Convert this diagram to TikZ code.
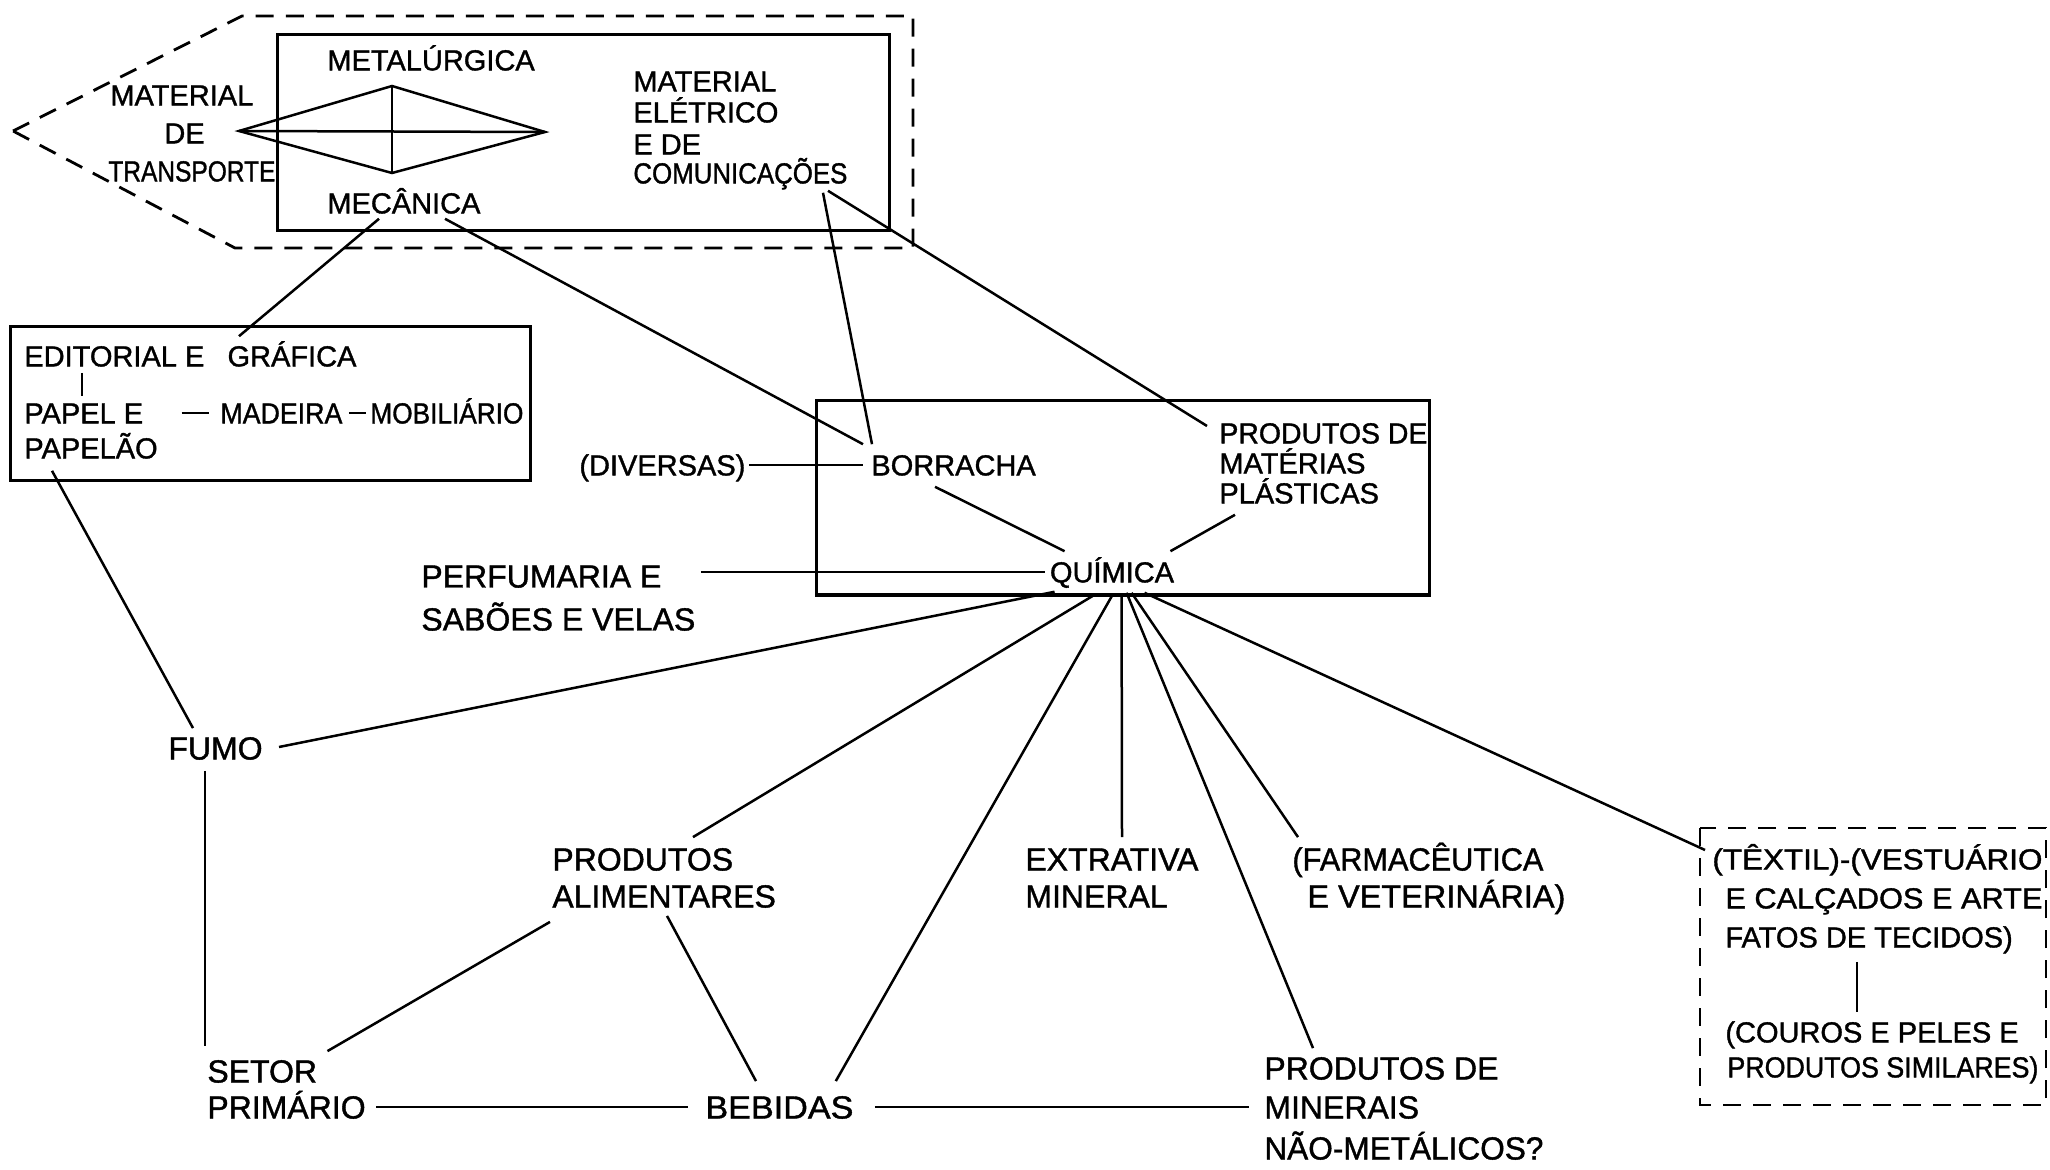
\documentclass[tikz,border=0pt]{standalone}
\usepackage{fontspec}
\setmainfont{Liberation Sans}[FakeBold=1.2]
\usepackage{graphicx}
\usetikzlibrary{calc}
\newcommand\fntS{\fontsize{14.5}{16}\selectfont}
\newcommand\fntL{\fontsize{16}{18}\selectfont}
\newcommand\hfit[2]{\resizebox{#1}{\height}{#2}}
\tikzset{
  smalltxt/.style={font=\fntS, text height=10.4pt, text depth=0pt, inner sep=0pt, anchor=west},
  largetxt/.style={font=\fntL, text height=11.5pt, text depth=0pt, inner sep=0pt, anchor=west},
  ln/.style={line width=1.25pt},
  solidbox/.style={line width=1.5pt},
  dashbox/.style={line width=1.4pt, dash pattern=on 9pt off 6pt}
}
\begin{document}
\begin{tikzpicture}[x=0.5pt,y=-0.5pt]
\useasboundingbox (0,0) rectangle (2050,1170);

% ---------- top group ----------
\draw[dashbox] (13,131) -- (242,16) -- (913,16) -- (913,248) -- (235,248) -- cycle;
\draw[solidbox] (277,35) rectangle (889,231);

\node[smalltxt] (metal) at (327,60) {METALÚRGICA};
\node[smalltxt] (mec) at (327,203) {MECÂNICA};
\node[smalltxt] (mtA) at (633,81) {MATERIAL};
\node[smalltxt] (mtB) at (633,112) {ELÉTRICO};
\node[smalltxt] (mtC) at (633,144) {E DE};
\node[smalltxt] (mtD) at (633,173) {\hfit{107pt}{COMUNICAÇÕES}};
\node[smalltxt] (trA) at (110,95) {MATERIAL};
\node[smalltxt] (trB) at (164,133) {DE};
\node[smalltxt] (trC) at (108,171) {\hfit{83.5pt}{TRANSPORTE}};

\coordinate (dl) at (239,131);
\coordinate (dt) at (392,86);
\coordinate (dr) at (545,132);
\coordinate (db) at (392,173);
\draw[ln] (dl) -- (dt) -- (dr) -- (db) -- cycle;
\draw[ln] (dl) -- (dr);
\draw[ln] (dt) -- (db);

% ---------- editorial box ----------
\draw[solidbox] (10,327) rectangle (530,481);
\node[smalltxt] (edA) at (24,356) {EDITORIAL E\hspace{0.8em}GRÁFICA};
\node[smalltxt] (papel) at (24,413) {PAPEL E};
\node[smalltxt] (made) at (220,413) {\hfit{61pt}{MADEIRA}};
\node[smalltxt] (mobi) at (370,413) {\hfit{76.5pt}{MOBILIÁRIO}};
\node[smalltxt] (papelao) at (24,448) {PAPELÃO};
\draw[ln] ($(edA.south west)+(58,6)$) -- ($(papel.north west)+(58,-6)$);
\draw[ln] ($(papel.east)+(38,0)$) -- ($(made.west)+(-11,0)$);
\draw[ln] ($(made.east)+(6,0)$) -- ($(mobi.west)+(-4,0)$);

% ---------- química box ----------
\draw[solidbox] (816,401) rectangle (1429,595);
\node[smalltxt] (div) at (579,465) {(DIVERSAS)};
\node[smalltxt] (borr) at (871,465) {BORRACHA};
\node[smalltxt, anchor=center] (qui) at (1112,572) {QUÍMICA};
\node[smalltxt] (plA) at (1219,433) {\hfit{104pt}{PRODUTOS DE}};
\node[smalltxt] (plB) at (1219,463) {MATÉRIAS};
\node[smalltxt] (plC) at (1219,493) {PLÁSTICAS};

% ---------- large labels ----------
\node[largetxt] (pfA) at (421,576) {PERFUMARIA E};
\node[largetxt] (pfB) at (421,619) {SABÕES E VELAS};
\node[largetxt] (fumo) at (168,748) {FUMO};
\node[largetxt] (alA) at (552,859) {PRODUTOS};
\node[largetxt] (alB) at (552,896) {ALIMENTARES};
\node[largetxt] (exA) at (1025,859) {EXTRATIVA};
\node[largetxt] (exB) at (1025,896) {MINERAL};
\node[largetxt] (faA) at (1292,859) {\hfit{125.5pt}{(FARMACÊUTICA}};
\node[largetxt] (faB) at (1307,896) {\hfit{129pt}{E VETERINÁRIA)}};
\node[largetxt] (seA) at (207,1071) {SETOR};
\node[largetxt] (seB) at (207,1107) {PRIMÁRIO};
\node[largetxt] (beb) at (705,1107) {\hfit{74pt}{BEBIDAS}};
\node[largetxt] (miA) at (1264,1068) {PRODUTOS DE};
\node[largetxt] (miB) at (1264,1107) {MINERAIS};
\node[largetxt] (miC) at (1264,1148) {\hfit{139.5pt}{NÃO-METÁLICOS?}};

% ---------- têxtil box ----------
\draw[dashbox] (1700,828) rectangle (2046,1105);
\node[smalltxt] (txA) at (1712,859) {\hfit{165pt}{(TÊXTIL)-(VESTUÁRIO}};
\node[smalltxt] (txB) at (1725,898) {\hfit{158.5pt}{E CALÇADOS E ARTE}};
\node[smalltxt] (txC) at (1725,937) {FATOS DE TECIDOS)};
\node[smalltxt] (crA) at (1725,1032) {(COUROS E PELES E};
\node[smalltxt] (crB) at (1727,1067) {\hfit{155.5pt}{PRODUTOS SIMILARES)}};
\draw[ln] ($(txC.south west)+(132,14)$) -- ($(crA.north west)+(132,-9)$);

% ---------- connectors ----------
\draw[ln] ($(mec.south west)+(52,5)$) -- ($(edA.north west)+(215,-9)$);
\draw[ln] ($(mec.south west)+(118,5)$) -- ($(borr.north west)+(-8,-10)$);
\draw[ln] ($(mtD.south west)+(190,9)$) -- ($(borr.north west)+(1,-10)$);
\draw[ln] ($(mtD.south west)+(195,7)$) -- ($(plA.west)+(-12,-7)$);
\draw[ln] ($(div.east)+(3,0)$) -- ($(borr.west)+(-8,0)$);
\draw[ln] ($(borr.south west)+(64,11)$) -- ($(qui.north west)+(15,-10)$);
\draw[ln] ($(plC.south west)+(16,11)$) -- ($(qui.north east)+(-4,-10)$);
\draw[ln] ($(pfA.east)+(39,-4)$) -- ($(qui.west)+(-5,0)$);
\draw[ln] ($(fumo.east)+(16,-1)$) -- ($(qui.south west)+(5,9)$);
\draw[ln] ($(alA.north west)+(141,-10)$) -- ($(qui.south west)+(45,12)$);
\draw[ln] ($(beb.north east)+(-18,-14)$) -- ($(qui.south west)+(63,12)$);
\draw[ln] ($(exA.north west)+(97,-10)$) -- ($(qui.south west)+(72,12)$);
\draw[ln] ($(miA.north west)+(49,-8)$) -- ($(qui.south west)+(77,10)$);
\draw[ln] ($(faA.north west)+(6,-10)$) -- ($(qui.south west)+(82,10)$);
\draw[ln] ($(txA.west)+(-7,-9)$) -- ($(qui.south west)+(95,10)$);
\draw[ln] ($(papelao.south west)+(28,12)$) -- ($(fumo.north west)+(25,-8)$);
\draw[ln] ($(fumo.south west)+(37,11)$) -- ($(seA.north west)+(-2,-13)$);
\draw[ln] ($(seA.north east)+(10,-8)$) -- ($(alB.south west)+(-2,14)$);
\draw[ln] ($(alB.south west)+(115,8)$) -- ($(beb.north west)+(51,-14)$);
\draw[ln] ($(seB.east)+(10,0)$) -- ($(beb.west)+(-17,0)$);
\draw[ln] ($(beb.east)+(21,0)$) -- ($(miB.west)+(-15,0)$);
\end{tikzpicture}
\end{document}
